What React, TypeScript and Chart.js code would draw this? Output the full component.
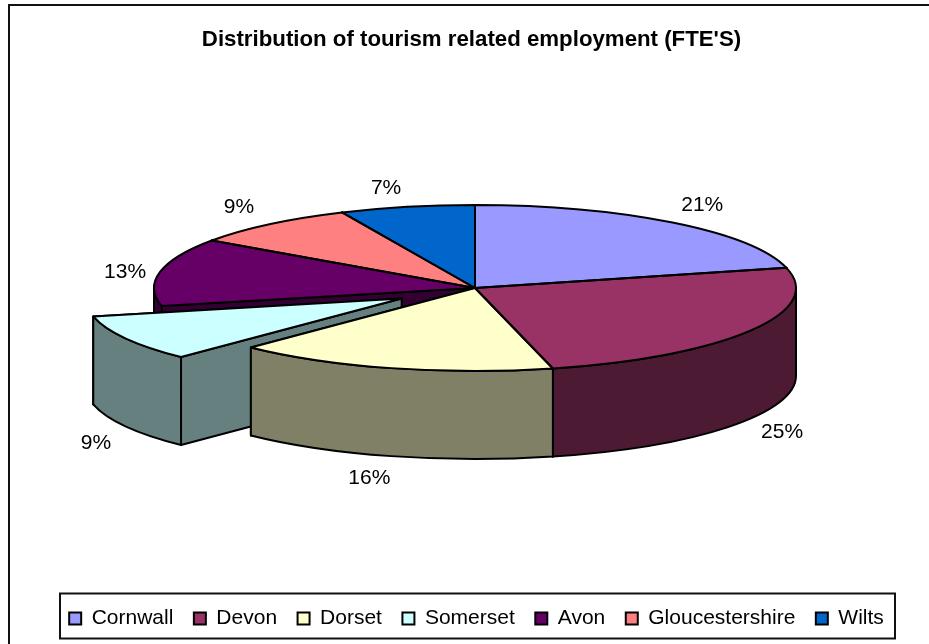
import React, { useEffect, useRef } from "react";
import { Chart, registerables } from "chart.js";

Chart.register(...registerables);

const chartTitle = "Distribution of tourism related employment (FTE'S)";
const categories = ["Cornwall", "Devon", "Dorset", "Somerset", "Avon", "Gloucestershire", "Wilts"];
const shares = [21.1, 25.0, 16.2, 9.2, 13.2, 8.5, 6.8];
const sliceColors = ["#9999FF", "#993366", "#FFFFCC", "#CCFFFF", "#660066", "#FF8080", "#0066CC"];
const wallColors = ["#4D4D80", "#4D1A33", "#808066", "#668080", "#330033", "#804040", "#003366"];
const explodedIndex = 3;
const paintOrder = [6, 5, 0, 4, 3, 1, 2];
const labelNudgeX = [4, -4, -11, 11, 6, -4, -12];
const labelNudgeY = [2, 1, -2, 4, 5, 2, 6];

const FONT = '"Liberation Sans", Arial, sans-serif';
const CX = 475;
const CY = 288;
const RX = 321;
const RY = 83;
const DEPTH = 88;
const EXPLODE = 84;
const EXPLODED_RADIUS = 316;
const K = RY / RX;
const LINE = 2;

function center(chart: any) {
  const a = chart.chartArea;
  return { x: (a.left + a.right) / 2, y: (a.top + a.bottom) / 2 };
}

function screenCenter(chart: any, arc: any) {
  const c = center(chart);
  return { x: CX + (arc.x - c.x), y: CY + (arc.y - c.y) * K };
}

const pie3d = {
  id: "pie3d",
  afterLayout(chart: any) {
    chart.legend.left += 5;
    chart.legend.right += 5;
    chart.legend.top -= 5;
    chart.legend.bottom -= 5;
  },
  afterDatasetsUpdate(chart: any) {
    const arc = chart.getDatasetMeta(0).data[explodedIndex];
    const mid = (arc.startAngle + arc.endAngle) / 2;
    arc.x += Math.cos(mid) * EXPLODE;
    arc.y += Math.sin(mid) * EXPLODE;
    arc.outerRadius = EXPLODED_RADIUS;
  },
  beforeDraw(chart: any) {
    const { ctx } = chart;
    ctx.save();
    ctx.fillStyle = "#FFFFFF";
    ctx.fillRect(0, 0, chart.width, chart.height);
    ctx.strokeStyle = "#111111";
    ctx.lineWidth = LINE;
    ctx.strokeRect(9, 5, chart.width + 20, chart.height + 20);
    ctx.restore();
  },
  beforeDatasetsDraw(chart: any) {
    const { ctx } = chart;
    const arcs = chart.getDatasetMeta(0).data;
    ctx.save();
    ctx.lineWidth = LINE;
    ctx.strokeStyle = "#000000";
    ctx.lineJoin = "round";
    for (const i of paintOrder) {
      const arc = arcs[i];
      const c = screenCenter(chart, arc);
      const rx = arc.outerRadius;
      const ry = rx * K;
      ctx.fillStyle = wallColors[i];
      for (const a of [arc.endAngle, arc.startAngle]) {
        const px = c.x + Math.cos(a) * rx;
        const py = c.y + Math.sin(a) * ry;
        ctx.beginPath();
        ctx.moveTo(c.x, c.y);
        ctx.lineTo(px, py);
        ctx.lineTo(px, py + DEPTH);
        ctx.lineTo(c.x, c.y + DEPTH);
        ctx.closePath();
        ctx.fill();
        ctx.stroke();
      }
      const lo = Math.max(arc.startAngle, 0);
      const hi = Math.min(arc.endAngle, Math.PI);
      if (hi > lo) {
        ctx.beginPath();
        ctx.ellipse(c.x, c.y, rx, ry, 0, lo, hi, false);
        ctx.ellipse(c.x, c.y + DEPTH, rx, ry, 0, hi, lo, true);
        ctx.closePath();
        ctx.fill();
        ctx.stroke();
      }
    }
    ctx.restore();
  },
  beforeDatasetDraw(chart: any) {
    const { ctx } = chart;
    const c = center(chart);
    ctx.save();
    ctx.translate(CX, CY);
    ctx.scale(1, K);
    ctx.translate(-c.x, -c.y);
  },
  afterDatasetDraw(chart: any) {
    chart.ctx.restore();
  },
  afterDatasetsDraw(chart: any) {
    const { ctx } = chart;
    const arcs = chart.getDatasetMeta(0).data;
    const total = shares.reduce((s, v) => s + v, 0);
    ctx.save();
    ctx.lineWidth = LINE;
    ctx.strokeStyle = "#000000";
    ctx.lineJoin = "round";
    arcs.forEach((arc: any) => {
      const c = screenCenter(chart, arc);
      const rx = arc.outerRadius;
      ctx.beginPath();
      ctx.moveTo(c.x, c.y);
      ctx.ellipse(c.x, c.y, rx, rx * K, 0, arc.startAngle, arc.endAngle, false);
      ctx.closePath();
      ctx.stroke();
    });
    ctx.fillStyle = "#000000";
    ctx.font = `21px ${FONT}`;
    ctx.textAlign = "center";
    ctx.textBaseline = "middle";
    arcs.forEach((arc: any, i: number) => {
      const c = screenCenter(chart, arc);
      const mid = (arc.startAngle + arc.endAngle) / 2;
      const x = c.x + Math.cos(mid) * RX * 1.13 + labelNudgeX[i];
      const y = c.y + Math.sin(mid) * RY * 1.3 + (Math.sin(mid) > 0 ? DEPTH : 0) + labelNudgeY[i];
      ctx.fillText(`${Math.round((shares[i] / total) * 100)}%`, x, y);
    });
    ctx.restore();
  },
  afterDraw(chart: any) {
    const { ctx } = chart;
    const boxes = chart.legend.legendHitBoxes;
    const first = boxes[0];
    ctx.save();
    ctx.strokeStyle = "#111111";
    ctx.lineWidth = LINE;
    ctx.strokeRect(60, first.top - 14.5, 835, first.height + 24);
    ctx.restore();
  },
};

export default function App() {
  const ref = useRef<HTMLCanvasElement | null>(null);
  useEffect(() => {
    const chart = new Chart(ref.current as HTMLCanvasElement, {
      type: "pie",
      data: {
        labels: categories,
        datasets: [
          {
            data: shares,
            backgroundColor: sliceColors,
            borderWidth: 0,
            clip: false,
          } as any,
        ],
      },
      options: {
        responsive: false,
        animation: false,
        events: [],
        radius: RX,
        layout: { padding: { left: 14, bottom: 0 } },
        plugins: {
          tooltip: { enabled: false },
          title: {
            display: true,
            text: chartTitle,
            color: "#000000",
            font: { family: FONT, size: 22.25, weight: "bold" },
            padding: { top: 27, bottom: 10 },
          },
          legend: {
            position: "bottom",
            labels: {
              color: "#000000",
              font: { family: FONT, size: 21 },
              boxWidth: 12,
              boxHeight: 12,
              padding: 20.5,
              generateLabels: () =>
                categories.map((text, i) => ({
                  text,
                  fillStyle: sliceColors[i],
                  strokeStyle: "#000000",
                  lineWidth: 2,
                  index: i,
                  fontColor: "#000000",
                })),
            },
          },
        },
      } as any,
      plugins: [pie3d],
    });
    return () => chart.destroy();
  }, []);
  return (
    <div style={{ position: "absolute", left: 0, top: 0 }}>
      <canvas ref={ref} width={929} height={644} style={{ display: "block" }} />
    </div>
  );
}
